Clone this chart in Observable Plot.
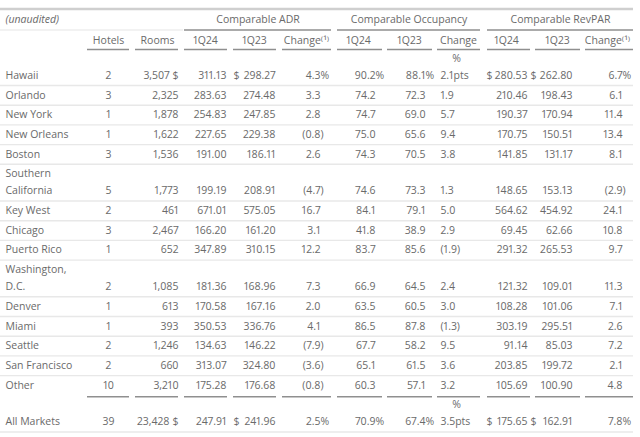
<!DOCTYPE html>
<html>
<head>
<meta charset="utf-8">
<script src="https://cdn.jsdelivr.net/npm/d3@7"></script>
<script src="https://cdn.jsdelivr.net/npm/@observablehq/plot@0.6"></script>
<style>
  html, body { margin: 0; padding: 0; background: #fff; }
  #chart svg { display: block; }
  #chart svg text { font-variant-numeric: proportional-nums; }
</style>
</head>
<body>
<div id="chart"></div>
<script>
// ---------- DATA ----------
const markets = ["Hawaii","Orlando","New York","New Orleans","Boston","Southern California","Key West","Chicago","Puerto Rico","Washington, D.C.","Denver","Miami","Seattle","San Francisco","Other"];
const hotels = [2,3,1,1,3,5,2,3,1,2,1,1,2,2,10];
const rooms = [3507,2325,1878,1622,1536,1773,461,2467,652,1085,613,393,1246,660,3210];
const adr1Q24 = [311.13,283.63,254.83,227.65,191.00,199.19,671.01,166.20,347.89,181.36,170.58,350.53,134.63,313.07,175.28];
const adr1Q23 = [298.27,274.48,247.85,229.38,186.11,208.91,575.05,161.20,310.15,168.96,167.16,336.76,146.22,324.80,176.68];
const adrChange = [4.3,3.3,2.8,-0.8,2.6,-4.7,16.7,3.1,12.2,7.3,2.0,4.1,-7.9,-3.6,-0.8];
const occ1Q24 = [90.2,74.2,74.7,75.0,74.3,74.6,84.1,41.8,83.7,66.9,63.5,86.5,67.7,65.1,60.3];
const occ1Q23 = [88.1,72.3,69.0,65.6,70.5,73.3,79.1,38.9,85.6,64.5,60.5,87.8,58.2,61.5,57.1];
const occChange = [2.1,1.9,5.7,9.4,3.8,1.3,5.0,2.9,-1.9,2.4,3.0,-1.3,9.5,3.6,3.2];
const revpar1Q24 = [280.53,210.46,190.37,170.75,141.85,148.65,564.62,69.45,291.32,121.32,108.28,303.19,91.14,203.85,105.69];
const revpar1Q23 = [262.80,198.43,170.94,150.51,131.17,153.13,454.92,62.66,265.53,109.01,101.06,295.51,85.03,199.72,100.90];
const revparChange = [6.7,6.1,11.4,13.4,8.1,-2.9,24.1,10.8,9.7,11.3,7.1,2.6,7.2,2.1,4.8];
const totalLabel = "All Markets";
const totalValues = [39,23428,247.91,241.96,2.5,70.9,67.4,3.5,175.65,162.91,7.8];
const noteLabel = "(unaudited)";
const groupHeaders = ["Comparable ADR","Comparable Occupancy","Comparable RevPAR"];
const columnHeaders = ["Hotels","Rooms","1Q24","1Q23","Change\u207D\u00B9\u207E","1Q24","1Q23","Change","1Q24","1Q23","Change\u207D\u00B9\u207E"];

// ---------- LAYOUT (positions / styles) ----------
const colKinds = ["int","int","money","money","pct","pct","pct","pts","money","money","pct"];
const colLayout = [
  {u:[87,129],  h:108, anchor:"middle", x:108},
  {u:[135,178], h:157, anchor:"end", x:178, xDollarRow:169},
  {u:[184,227], h:205, anchor:"end", x:226, dollar:172},
  {u:[233,276], h:254, anchor:"end", x:275, dollar:233},
  {u:[282,331], h:306, anchor:"end", x:320},
  {u:[337,382], h:358, anchor:"end", x:375},
  {u:[387,432], h:409, anchor:"end", x:425},
  {u:[437,480], h:458, anchor:"start", x:440, pctAbove:456},
  {u:[487,530], h:506, anchor:"end", x:527, dollar:486},
  {u:[535,580], h:557, anchor:"end", x:572, dollar:530},
  {u:[585,633], h:607, anchor:"end", x:622}
];
const groupCols = [[2,4],[5,7],[8,10]];
const labelX = 5, rightEdge = 633;
const topLineY = 8.5, groupY = 19, groupLineY = 29.5, headerY = 40, headerLineY = 49;
const firstRowTop = 48.3, single = 19.7, double = 36.7, lineGap = 17;

// ---------- BUILD TABLE ----------
const seriesCols = [hotels, rooms, adr1Q24, adr1Q23, adrChange, occ1Q24, occ1Q23, occChange, revpar1Q24, revpar1Q23, revparChange];
function wrap(name){ if (name.length > 14){ const k = name.lastIndexOf(" "); return [name.slice(0,k), name.slice(k+1)]; } return [name]; }
const rows = markets.map((m,i) => ({label:m, values: seriesCols.map(c => c[i]), emph: i === 0}));
rows.push({label: totalLabel, values: totalValues, emph: true, total: true});

const f2 = d3.format(".2f"), f1 = d3.format(".1f"), fi = d3.format(",");
const cells = [];
const separators = [], thickSegs = [];
let rowTop = firstRowTop;
rows.forEach((r, ri) => {
  const lab = wrap(r.label);
  const lines = Math.max(lab.length, r.emph ? 2 : 1);
  const h = lines === 2 ? double : single;
  const bottom = rowTop + h;
  const yLast = bottom - 10, yFirst = yLast - lineGap;
  lab.forEach((t, k) => cells.push({x: labelX, y: lab.length === 2 ? (k === 0 ? yFirst : yLast) : yLast, text: t, anchor: "start", label: true}));
  r.values.forEach((v, c) => {
    const L = colLayout[c], kind = colKinds[c];
    if (kind === "int") {
      const x = (r.emph && L.xDollarRow) ? L.xDollarRow : L.x;
      cells.push({x, y: yLast, text: fi(v), anchor: L.anchor});
    } else if (kind === "money") {
      cells.push({x: L.x, y: yLast, text: f2(v), anchor: "end"});
      if (r.emph) cells.push({x: L.dollar, y: yLast, text: "$", anchor: "start"});
    } else if (kind === "pct") {
      const neg = v < 0;
      cells.push({x: L.x, y: yLast, text: (neg ? "(" : "") + f1(Math.abs(v)), anchor: "end"});
      const suf = neg ? ")" : (r.emph ? "%" : "");
      if (suf) cells.push({x: L.x, y: yLast, text: suf, anchor: "start"});
    } else if (kind === "pts") {
      const neg = v < 0;
      const t = (neg ? "(" : "") + f1(Math.abs(v)) + (neg ? ")" : "") + (r.emph ? "pts" : "");
      cells.push({x: L.x, y: yLast, text: t, anchor: "start"});
      if (r.emph) cells.push({x: L.pctAbove, y: yFirst, text: "%", anchor: "middle"});
    }
  });
  if (ri < rows.length - 2) separators.push({y: bottom, x1: 0, x2: rightEdge});
  if (ri === rows.length - 2) colLayout.forEach(L => thickSegs.push({y: bottom + 1.5, x1: L.u[0], x2: L.u[1]}));
  if (r.total) separators.push({y: bottom, x1: 0, x2: rightEdge});
  rowTop = bottom;
});

const headerCells = columnHeaders.map((t, c) => ({x: colLayout[c].h, y: headerY, text: t}));
const headerSegs = colLayout.map(L => ({y: headerLineY, x1: L.u[0], x2: L.u[1]}));
const groupCells = groupHeaders.map((t, g) => {
  const [a, b] = groupCols[g];
  return {x: (colLayout[a].u[0] + colLayout[b].u[1]) / 2, y: groupY, text: t, x1: colLayout[a].u[0], x2: colLayout[b].u[1]};
});

const txt = (data, anchor, extra = {}) => Plot.text(data.filter(d => d.anchor === anchor), {x: "x", y: "y", text: "text", textAnchor: anchor, fill: "#6a6a6a", fontSize: 10.5, ...extra});

const chart = Plot.plot({
  width: 640, height: 437, margin: 0,
  x: {type: "linear", domain: [0, 640], range: [0, 640], axis: null},
  y: {type: "linear", domain: [0, 437], range: [0, 437], axis: null},
  style: {fontFamily: "'Open Sans', sans-serif", background: "#fff"},
  marks: [
    Plot.ruleY([{y: topLineY}], {y: "y", x1: 0, x2: rightEdge, stroke: "#cfcfcf", strokeWidth: 2.5}),
    Plot.ruleY([{y: groupLineY}], {y: "y", x1: 0, x2: colLayout[1].u[1] + 5, stroke: "#e6e6e6", strokeWidth: 1.2}),
    Plot.ruleY(groupCells, {y: groupLineY, x1: "x1", x2: "x2", stroke: "#8f8f8f", strokeWidth: 1.6}),
    Plot.ruleY(headerSegs, {y: "y", x1: "x1", x2: "x2", stroke: "#8f8f8f", strokeWidth: 1.6}),
    Plot.ruleY(separators, {y: "y", x1: "x1", x2: "x2", stroke: "#e8e8e8", strokeWidth: 1.4}),
    Plot.ruleY(thickSegs, {y: "y", x1: "x1", x2: "x2", stroke: "#8f8f8f", strokeWidth: 1.6}),
    Plot.text([{x: labelX, y: groupY, text: noteLabel}], {x: "x", y: "y", text: "text", textAnchor: "start", fill: "#6a6a6a", fontSize: 10.5, fontStyle: "italic"}),
    Plot.text(groupCells, {x: "x", y: "y", text: "text", textAnchor: "middle", fill: "#6a6a6a", fontSize: 10.5}),
    Plot.text(headerCells, {x: "x", y: "y", text: "text", textAnchor: "middle", fill: "#6a6a6a", fontSize: 10.5}),
    txt(cells, "start"),
    txt(cells, "end"),
    txt(cells, "middle")
  ]
});
document.getElementById("chart").appendChild(chart);
</script>
</body>
</html>
